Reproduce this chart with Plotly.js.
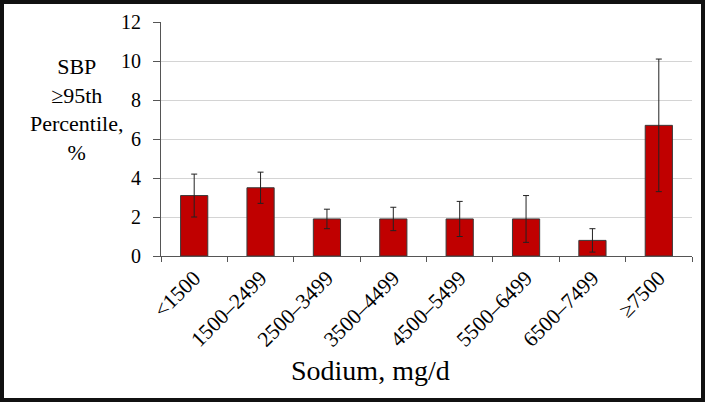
<!DOCTYPE html>
<html>
<head>
<meta charset="utf-8">
<script src="https://cdn.plot.ly/plotly-3.0.1.min.js"></script>
<style>
html,body{margin:0;padding:0;background:#fff;}
#chart{position:absolute;left:0;top:0;width:709px;height:402px;}
#frame{position:absolute;left:0;top:0;width:705px;height:402px;box-sizing:border-box;border:4px solid #111;pointer-events:none;}
</style>
</head>
<body>
<div id="chart"></div>
<div id="frame"></div>
<script>
const categories = ["<1500","1500–2499","2500–3499","3500–4499","4500–5499","5500–6499","6500–7499","≥7500"];
const prevalence = [3.1, 3.5, 1.9, 1.9, 1.9, 1.9, 0.8, 6.7];
const upperCI = [4.2, 4.3, 2.4, 2.5, 2.8, 3.1, 1.4, 10.1];
const lowerCI = [2.0, 2.7, 1.4, 1.3, 1.0, 0.7, 0.2, 3.3];
const yTicks = [0, 2, 4, 6, 8, 10, 12];

const serif = "Times New Roman, Liberation Serif, DejaVu Serif, serif";

const trace = {
  type: "bar",
  x: categories,
  y: prevalence,
  width: 0.41,
  marker: {color: "#C00000", line: {color: "#3a3a3a", width: 1}},
  error_y: {
    type: "data",
    symmetric: false,
    array: upperCI.map((u, i) => u - prevalence[i]),
    arrayminus: lowerCI.map((l, i) => prevalence[i] - l),
    color: "#222",
    thickness: 1,
    width: 3
  },
  hoverinfo: "none"
};

const layout = {
  width: 709,
  height: 402,
  margin: {l: 161, r: 17, t: 22, b: 146},
  paper_bgcolor: "#fff",
  plot_bgcolor: "#fff",
  showlegend: false,
  font: {family: serif, color: "#000"},
  xaxis: {
    type: "category",
    tickangle: -45,
    tickfont: {family: serif, size: 21.5, color: "#000"},
    showline: true,
    linecolor: "#555",
    linewidth: 1,
    ticks: "outside",
    tickson: "boundaries",
    ticklen: 5,
    tickcolor: "#555",
    showgrid: false,
    zeroline: false
  },
  yaxis: {
    range: [0, 12],
    tickvals: yTicks,
    ticktext: yTicks.map(String),
    tickfont: {family: serif, size: 20, color: "#000"},
    showline: true,
    linecolor: "#555",
    linewidth: 1,
    ticks: "outside",
    ticklen: 7,
    tickcolor: "#555",
    ticklabelstandoff: 8,
    showgrid: true,
    gridcolor: "#d4d4d4",
    gridwidth: 1,
    zeroline: false
  },
  annotations: [
    {
      text: "SBP<br>≥95th<br>Percentile,<br>%",
      xref: "paper", yref: "paper",
      x: -0.16, y: 0.625,
      xanchor: "center", yanchor: "middle",
      showarrow: false,
      align: "center",
      font: {family: serif, size: 22, color: "#000"}
    },
    {
      text: "Sodium, mg/d",
      xref: "paper", yref: "paper",
      x: 0.394, y: -0.49,
      xanchor: "center", yanchor: "middle",
      showarrow: false,
      font: {family: serif, size: 28, color: "#000"}
    }
  ]
};

Plotly.newPlot("chart", [trace], layout, {displayModeBar: false, staticPlot: true});
</script>
</body>
</html>
